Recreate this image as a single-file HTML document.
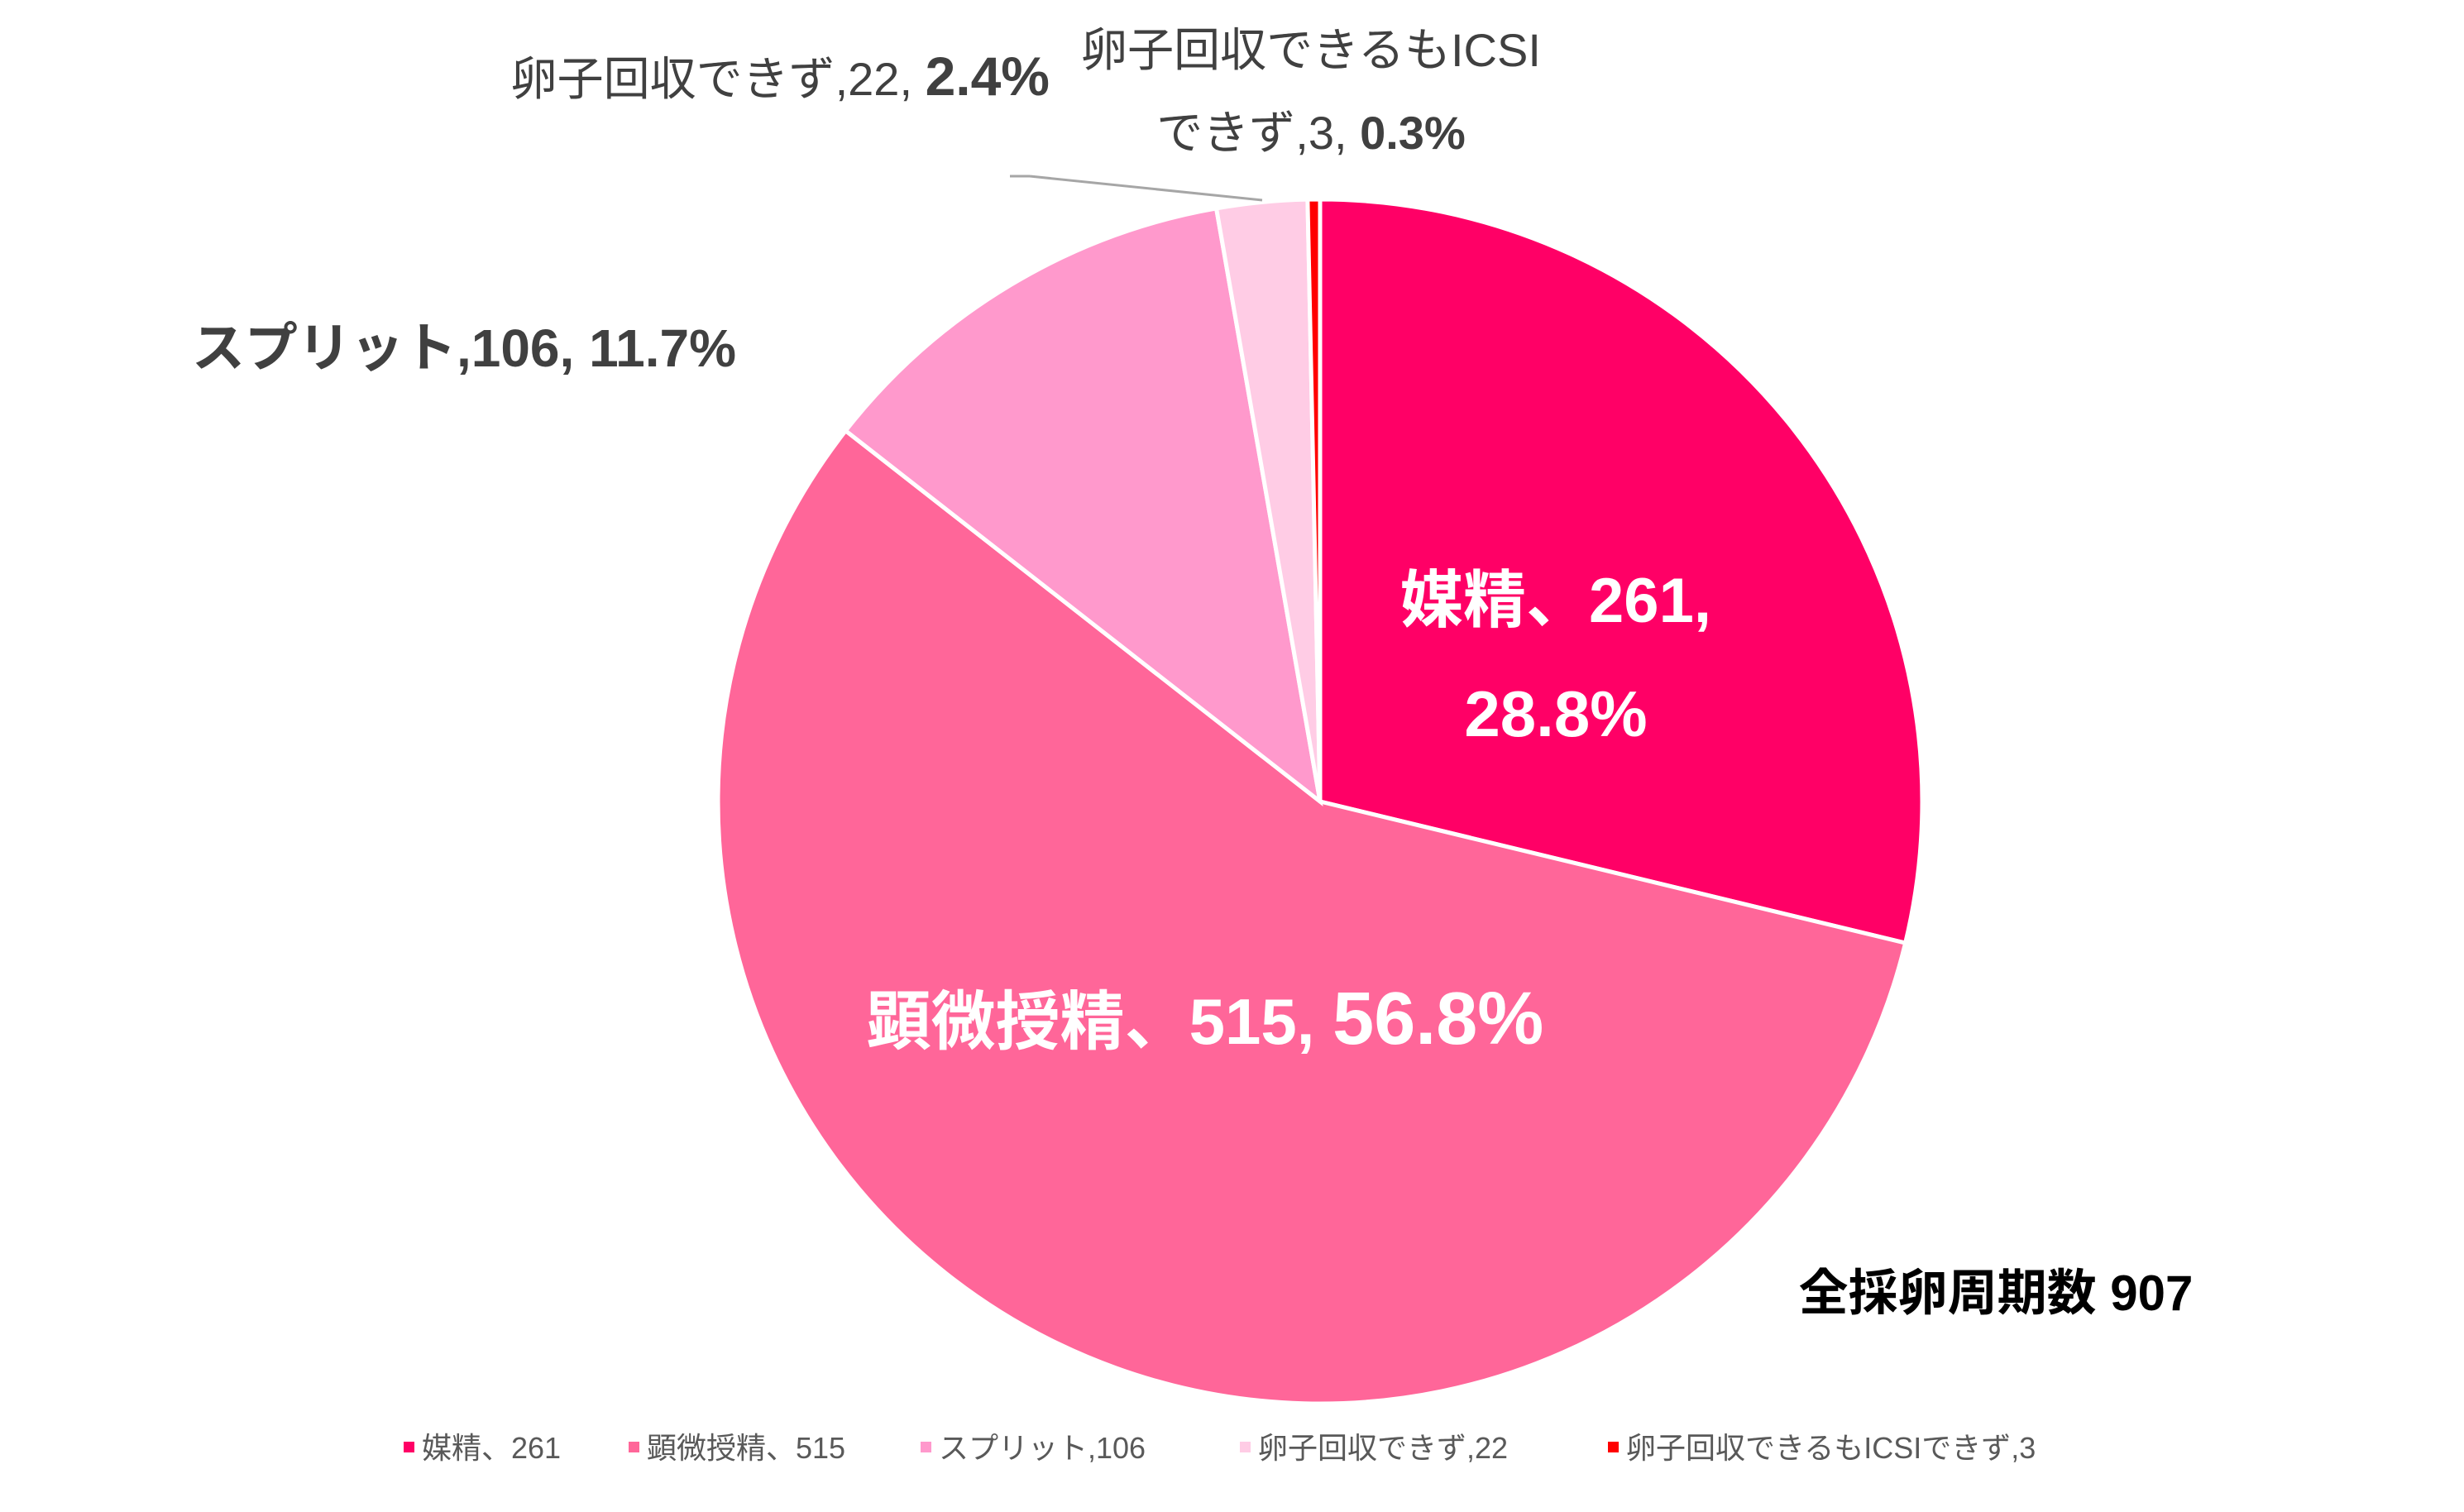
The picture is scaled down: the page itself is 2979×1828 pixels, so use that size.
<!DOCTYPE html>
<html><head><meta charset="utf-8"><style>
html,body{margin:0;padding:0;background:#fff;}
svg{display:block;}
text{font-family:"Liberation Sans","Noto Sans CJK JP",sans-serif;}
</style></head><body>
<svg id="chart" width="2979" height="1828" viewBox="0 0 2979 1828" xmlns="http://www.w3.org/2000/svg">
<g id="slices"></g>
<line x1="1221" y1="213" x2="1245" y2="213" stroke="#a6a6a6" stroke-width="3"/>
<line x1="1245" y1="213" x2="1526" y2="242" stroke="#a6a6a6" stroke-width="3"/>
<text x="1881" y="752" text-anchor="middle" font-size="76" font-weight="bold" fill="#fff">媒精、261,</text>
<text x="1881" y="890" text-anchor="middle" font-size="78" font-weight="bold" fill="#fff">28.8%</text>
<text x="1457" y="1262" text-anchor="middle" font-size="78" font-weight="bold" fill="#fff">顕微授精、515, <tspan font-size="90">56.8%</tspan></text>
<text x="561" y="443" text-anchor="middle" font-size="64" font-weight="bold" fill="#404040">スプリット,106, 11.7%</text>
<text x="1269" y="115" text-anchor="end" font-size="56" fill="#404040">卵子回収できず,22, <tspan font-size="66" font-weight="bold">2.4%</tspan></text>
<text x="1585" y="80" text-anchor="middle" font-size="56" fill="#404040">卵子回収できるもICSI</text>
<text x="1585" y="180" text-anchor="middle" font-size="56" fill="#404040">できず,3, <tspan font-weight="bold">0.3%</tspan></text>
<text x="2413" y="1584" text-anchor="middle" font-size="60" font-weight="bold" fill="#000">全採卵周期数 907</text>
<g id="legend"></g>
</svg>
<script>
const categories = ["媒精", "顕微授精", "スプリット", "卵子回収できず", "卵子回収できるもICSIできず"];
const values = [261, 515, 106, 22, 3];
const legendSeps = ["、", "、", ",", ",", ","];
const colors = ["#FF0066", "#FF6699", "#FF99CC", "#FFCCE5", "#FF0000"];
const NS = "http://www.w3.org/2000/svg";
const cx = 1596, cy = 969, r = 728;
const total = values.reduce((a, b) => a + b, 0);
function angleOf(v) { return v / total * Math.PI * 2; }
function pt(a) { return [cx + r * Math.sin(a), cy - r * Math.cos(a)]; }
const g = document.getElementById("slices");
let acc = 0;
values.forEach((v, i) => {
  const a0 = angleOf(acc), a1 = angleOf(acc + v);
  acc += v;
  const p0 = pt(a0), p1 = pt(a1);
  const large = (a1 - a0) > Math.PI ? 1 : 0;
  const p = document.createElementNS(NS, "path");
  p.setAttribute("d", `M${cx},${cy} L${p0[0]},${p0[1]} A${r},${r} 0 ${large} 1 ${p1[0]},${p1[1]} Z`);
  p.setAttribute("fill", colors[i]);
  p.setAttribute("stroke", "#fff");
  p.setAttribute("stroke-width", "5");
  
  
  g.appendChild(p);
});
const lg = document.getElementById("legend");
const legendX = [488, 760, 1113, 1499, 1944];
categories.forEach((c, i) => {
  const m = document.createElementNS(NS, "rect");
  m.setAttribute("x", legendX[i]); m.setAttribute("y", 1743);
  m.setAttribute("width", 13); m.setAttribute("height", 13);
  m.setAttribute("fill", colors[i]);
  
  
  lg.appendChild(m);
  const t = document.createElementNS(NS, "text");
  t.setAttribute("x", legendX[i] + 22); t.setAttribute("y", 1763);
  t.setAttribute("font-size", "36"); t.setAttribute("fill", "#595959");
  t.textContent = c + legendSeps[i] + values[i];
  
  
  lg.appendChild(t);
});
</script>
</body></html>
